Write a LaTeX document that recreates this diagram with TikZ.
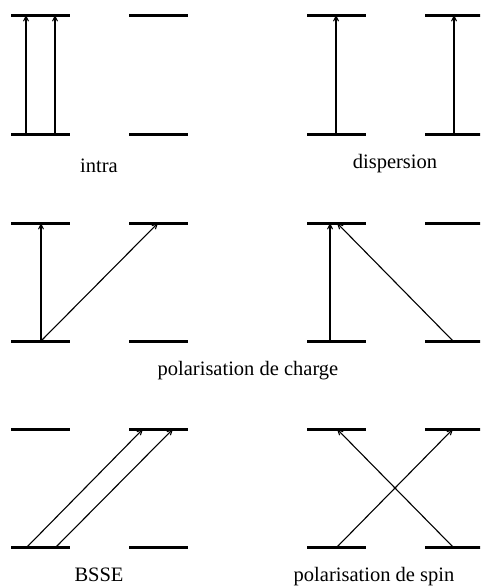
\documentclass[tikz,border=0pt]{standalone}
\usepackage{fontspec}
\setmainfont{Liberation Serif}
\usetikzlibrary{arrows.meta}
\begin{document}
\begin{tikzpicture}[x=1pt,y=-1pt,
  level/.style={line width=3pt},
  trans/.style={line width=1.1pt,-{Straight Barb[length=5pt,width=5pt]}},
  lab/.style={font=\fontsize{20.5}{24}\selectfont, inner sep=0pt, anchor=base}]
\useasboundingbox (0,0) rectangle (480,587);
\begin{scope}
\clip (0,0) rectangle (480,587);
% levels: four columns, three rows
\foreach \r/\t/\b in {1/15/134, 2/223/341, 3/429/547} {
  \foreach \c/\xa/\xb in {1/11/70, 2/129/188, 3/307/366, 4/425/484} {
    \draw[level] (\xa,\t) -- (\xb,\t);
    \draw[level] (\xa,\b) -- (\xb,\b);
  }
}
\end{scope}
% row 1: intra
\coordinate (a1) at (26,134); \coordinate (a2) at (26,15);
\coordinate (b1) at (55,134); \coordinate (b2) at (55,15);
\draw[trans] (a1) -- (a2);
\draw[trans] (b1) -- (b2);
\node[lab] (intra) at (99,172) {intra};
% row 1: dispersion
\coordinate (c1) at (336,134); \coordinate (c2) at (336,15);
\coordinate (d1) at (454,134); \coordinate (d2) at (454,15);
\draw[trans] (c1) -- (c2);
\draw[trans] (d1) -- (d2);
\node[lab] (disp) at (395,168) {dispersion};
% row 2
\coordinate (e1) at (41,341); \coordinate (e2) at (41,223);
\coordinate (f2) at (158,223);
\draw[trans] (e1) -- (e2);
\draw[trans] (e1) -- (f2);
\coordinate (g1) at (330,341); \coordinate (g2) at (330,223);
\coordinate (h1) at (453,341); \coordinate (h2) at (337,223);
\draw[trans] (g1) -- (g2);
\draw[trans] (h1) -- (h2);
\node[lab] (pc) at (248,375) {polarisation de charge};
% row 3: BSSE
\coordinate (i1) at (27,547); \coordinate (i2) at (143,429);
\coordinate (j1) at (56,547); \coordinate (j2) at (173,429);
\draw[trans] (i1) -- (i2);
\draw[trans] (j1) -- (j2);
\node[lab] (bsse) at (99,581.5) {BSSE};
% row 3: spin
\coordinate (k1) at (453,547); \coordinate (k2) at (337,429);
\coordinate (l1) at (337,547); \coordinate (l2) at (453,429);
\draw[trans] (k1) -- (k2);
\draw[trans] (l1) -- (l2);
\node[lab] (ps) at (374,581.5) {polarisation de spin};
\end{tikzpicture}
\end{document}
